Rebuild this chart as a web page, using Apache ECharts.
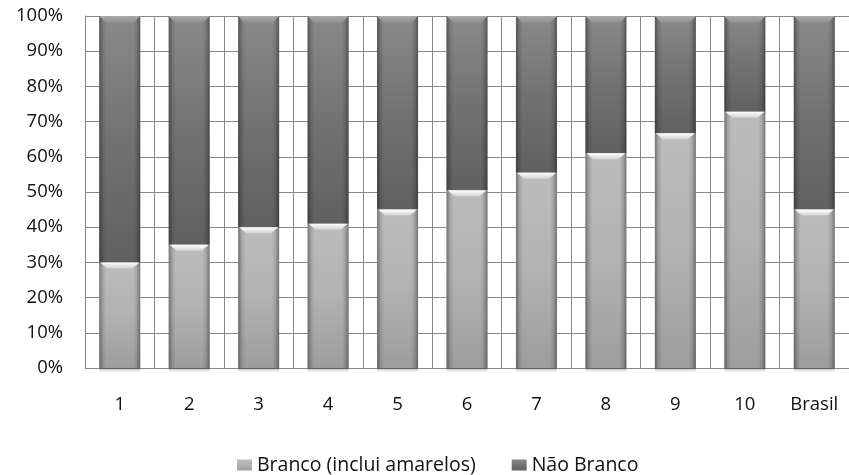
<!DOCTYPE html>
<html>
<head>
<meta charset="utf-8">
<script src="https://cdn.jsdelivr.net/npm/echarts@6/dist/echarts.min.js"></script>
<style>
  html, body { margin: 0; padding: 0; background: #ffffff; }
  #chart { width: 849px; height: 475px; }
</style>
</head>
<body>
<div id="chart"></div>
<script>
// Share of population by group, per decile and for Brazil overall (%)
const categories = ['1', '2', '3', '4', '5', '6', '7', '8', '9', '10', 'Brasil'];
const branco = [30, 35, 40, 41, 45, 50.5, 55.5, 61, 66.7, 72.8, 45];
const naoBranco = [70, 65, 60, 59, 55, 49.5, 44.5, 39, 33.3, 27.2, 55];
const yTicks = [0, 10, 20, 30, 40, 50, 60, 70, 80, 90, 100];

const BAR_W = 41;
const FONT = 'Open Sans';

const chart = echarts.init(document.getElementById('chart'), null, { renderer: 'canvas' });

function vGrad(stops) {
  return new echarts.graphic.LinearGradient(0, 0, 0, 1,
    stops.map((c, i) => ({ offset: i / (stops.length - 1), color: c })));
}
function hGrad(stops) {
  return new echarts.graphic.LinearGradient(0, 0, 1, 0,
    stops.map((c, i) => ({ offset: i / (stops.length - 1), color: c })));
}

// Bevel, edge shading and ground shadow drawn over each stacked column
function renderBevel(params, api) {
  const i = api.value(0);
  const low = api.value(1);
  const high = api.value(2);
  const pBottom = api.coord([i, 0]);
  const pMid = api.coord([i, low]);
  const pTop = api.coord([i, high]);
  const x0 = pBottom[0] - BAR_W / 2;
  const x1 = pBottom[0] + BAR_W / 2;
  const yb = pBottom[1], ym = pMid[1], yt = pTop[1];
  const edge = 7;
  return {
    type: 'group',
    children: [
      {
        type: 'rect',
        shape: { x: x0, y: yb, width: BAR_W, height: 4 },
        style: { fill: vGrad(['rgba(0,0,0,0.30)', 'rgba(0,0,0,0)']) }
      },
      {
        type: 'rect',
        shape: { x: x0, y: yt, width: edge, height: yb - yt },
        style: { fill: hGrad(['rgba(0,0,0,0.38)', 'rgba(0,0,0,0.12)', 'rgba(0,0,0,0)']) }
      },
      {
        type: 'rect',
        shape: { x: x1 - edge, y: yt, width: edge, height: yb - yt },
        style: { fill: hGrad(['rgba(0,0,0,0)', 'rgba(0,0,0,0.12)', 'rgba(0,0,0,0.38)']) }
      },
      {
        type: 'polygon',
        shape: { points: [[x0, yt], [x1, yt], [x1 - 7, yt + 7], [x0 + 7, yt + 7]] },
        style: { fill: vGrad(['#ababab', '#8e8e8e']) }
      },
      {
        type: 'polygon',
        shape: { points: [[x0 + 1, ym], [x1 - 1, ym], [x1 - 8, ym + 6], [x0 + 8, ym + 6]] },
        style: { fill: vGrad(['#ffffff', '#d2d2d2']) }
      }
    ]
  };
}

const option = {
  backgroundColor: '#ffffff',
  animation: false,
  textStyle: { fontFamily: FONT },
  grid: { left: 85, top: 16, width: 772, height: 352, containLabel: false },
  legend: {
    left: 232,
    top: 450,
    itemWidth: 15,
    itemHeight: 11,
    itemGap: 36,
    icon: 'rect',
    data: ['Branco (inclui amarelos)', 'Não Branco'],
    textStyle: { fontFamily: FONT, fontSize: 19.5, color: '#111111' }
  },
  xAxis: {
    type: 'category',
    data: categories,
    boundaryGap: true,
    axisLine: { show: false },
    axisTick: { show: false },
    splitLine: { show: true, lineStyle: { color: '#878787', width: 1 } },
    axisLabel: { margin: 27, fontSize: 18.5, color: '#111111', fontFamily: FONT }
  },
  yAxis: {
    type: 'value',
    min: yTicks[0],
    max: yTicks[yTicks.length - 1],
    interval: 10,
    axisLine: { show: true, lineStyle: { color: '#878787' } },
    axisTick: { show: false },
    splitLine: { show: true, lineStyle: { color: '#878787', width: 1 } },
    axisLabel: { margin: 22, fontSize: 18.5, color: '#111111', fontFamily: FONT, formatter: '{value}%' }
  },
  series: [
    {
      name: 'Branco (inclui amarelos)',
      type: 'bar',
      stack: 'total',
      barWidth: BAR_W,
      data: branco,
      itemStyle: { color: vGrad(['#bcbcbc', '#b2b2b2', '#9d9d9d']) }
    },
    {
      name: 'Não Branco',
      type: 'bar',
      stack: 'total',
      barWidth: BAR_W,
      data: naoBranco,
      itemStyle: { color: vGrad(['#8a8a8a', '#727272', '#616161']) }
    },
    {
      name: 'bevel',
      type: 'custom',
      silent: true,
      renderItem: renderBevel,
      data: categories.map((c, i) => [i, branco[i], branco[i] + naoBranco[i]]),
      z: 3
    }
  ]
};

chart.setOption(option);
</script>
</body>
</html>
